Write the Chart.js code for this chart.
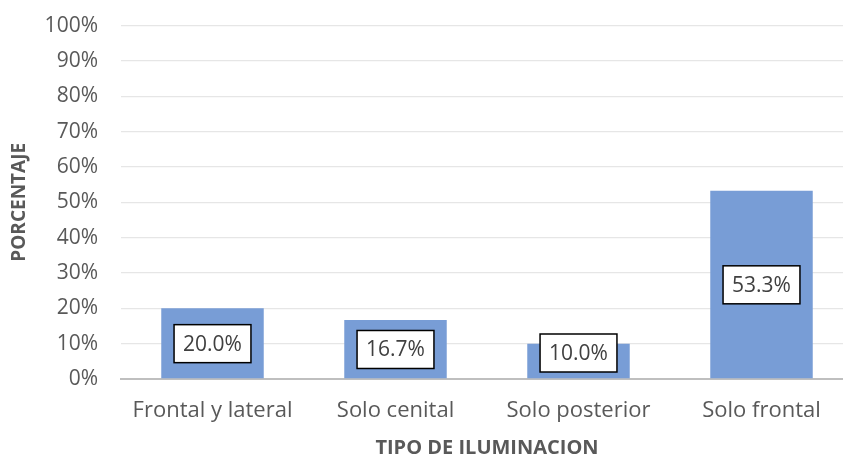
<!DOCTYPE html>
<html>
<head>
<meta charset="utf-8">
<script src="https://cdn.jsdelivr.net/npm/chart.js@4"></script>
<style>
  html, body { margin: 0; padding: 0; background: #fff; overflow: hidden; }
  #wrap { width: 853px; height: 467px; position: relative; top: -10px; }
</style>
</head>
<body>
<div id="wrap"><canvas id="chart"></canvas></div>
<script>
// Datos del gráfico
const categorias = ['Frontal y lateral', 'Solo cenital', 'Solo posterior', 'Solo frontal'];
const porcentajes = [20.0, 16.7, 10.0, 53.3];
const ticksY = [0, 10, 20, 30, 40, 50, 60, 70, 80, 90, 100];

const fuente = '"Open Sans", sans-serif';

// Etiquetas con recuadro blanco dentro de cada barra
const etiquetasPlugin = {
    id: 'etiquetas',
    afterDatasetsDraw(chart) {
        const ctx = chart.ctx;
        const meta = chart.getDatasetMeta(0);
        const base = chart.scales.y.getPixelForValue(0);
        ctx.save();
        ctx.font = '21px ' + fuente;
        ctx.textAlign = 'center';
        ctx.textBaseline = 'middle';
        meta.data.forEach((bar, i) => {
            const texto = porcentajes[i].toFixed(1) + '%';
            const w = ctx.measureText(texto).width + 18;
            const h = 38;
            let cy = (bar.y + base) / 2;
            cy = Math.min(cy, base - h / 2 - 7);
            ctx.fillStyle = '#ffffff';
            ctx.fillRect(bar.x - w / 2, cy - h / 2, w, h);
            ctx.strokeStyle = '#000000';
            ctx.lineWidth = 1.5;
            ctx.strokeRect(bar.x - w / 2, cy - h / 2, w, h);
            ctx.fillStyle = '#404040';
            ctx.fillText(texto, bar.x, cy + 1);
        });
        ctx.restore();
    }
};

const ctx = document.getElementById('chart').getContext('2d');
new Chart(ctx, {
    type: 'bar',
    data: {
        labels: categorias,
        datasets: [{
            data: porcentajes,
            backgroundColor: '#789dd6',
            barPercentage: 0.56,
            categoryPercentage: 1.0
        }]
    },
    options: {
        responsive: true,
        maintainAspectRatio: false,
        animation: false,
        layout: { padding: { top: 2, right: 0, bottom: 0, left: 0 } },
        plugins: {
            legend: { display: false },
            tooltip: { enabled: false }
        },
        scales: {
            y: {
                min: 0,
                max: 100,
                afterBuildTicks: (scale) => { scale.ticks = ticksY.map(v => ({ value: v })); },
                afterFit: (scale) => { scale.width = 121; },
                ticks: {
                    callback: (v) => v + '%',
                    color: '#595959',
                    font: { family: fuente, size: 21 },
                    padding: 23
                },
                grid: { color: '#e6e6e6', lineWidth: 1.3, drawTicks: false },
                border: { display: false },
                title: {
                    display: true,
                    text: 'PORCENTAJE',
                    color: '#595959',
                    font: { family: fuente, size: 19, weight: 'bold' },
                    padding: { top: 8, bottom: 0 }
                }
            },
            x: {
                afterFit: (scale) => { scale.height = 78; },
                ticks: {
                    color: '#595959',
                    font: { family: fuente, size: 22 },
                    padding: 19
                },
                grid: { display: false, drawTicks: false },
                border: { color: '#bfbfbf', width: 2 },
                title: {
                    display: true,
                    text: 'TIPO DE ILUMINACION',
                    color: '#595959',
                    font: { family: fuente, size: 20, weight: 'bold' },
                    padding: { top: 0, bottom: -3 }
                }
            }
        }
    },
    plugins: [etiquetasPlugin]
});
</script>
</body>
</html>
